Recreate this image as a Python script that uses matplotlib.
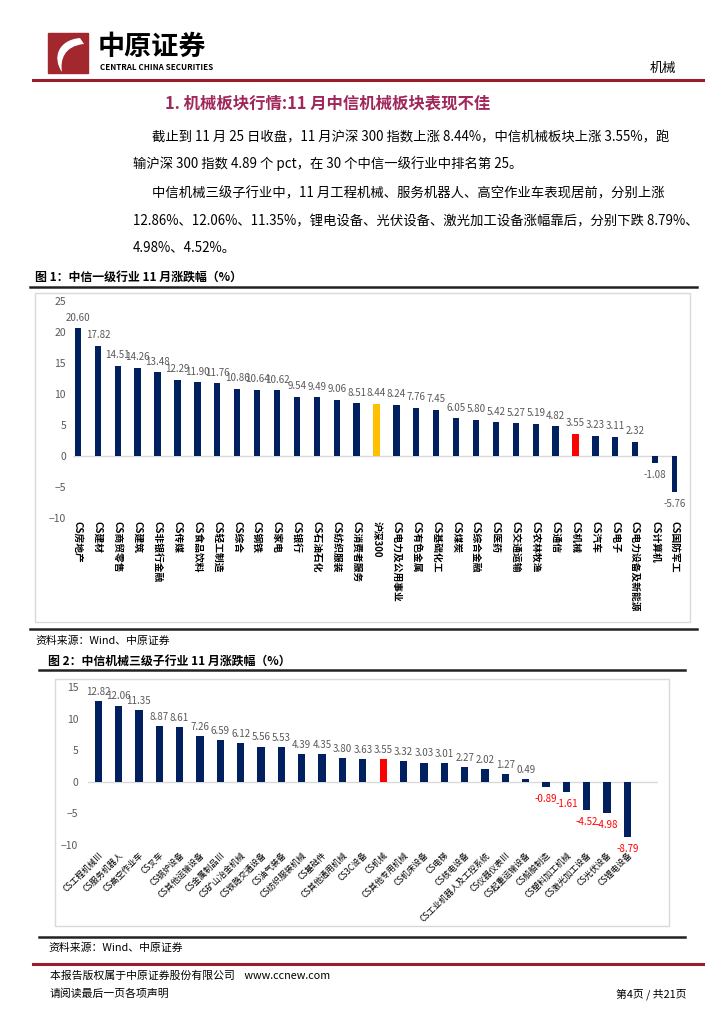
import matplotlib
matplotlib.use("Agg")
import matplotlib.pyplot as plt
from matplotlib.patches import Rectangle, PathPatch
from matplotlib.path import Path

plt.rcParams['font.family'] = ['Noto Sans CJK SC', 'DejaVu Sans']

# 图1：中信一级行业11月涨跌幅
ind_names = ["CS房地产", "CS建材", "CS商贸零售", "CS建筑", "CS非银行金融", "CS传媒",
             "CS食品饮料", "CS轻工制造", "CS综合", "CS钢铁", "CS家电", "CS银行",
             "CS石油石化", "CS纺织服装", "CS消费者服务", "沪深300", "CS电力及公用事业",
             "CS有色金属", "CS基础化工", "CS煤炭", "CS综合金融", "CS医药", "CS交通运输",
             "CS农林牧渔", "CS通信", "CS机械", "CS汽车", "CS电子", "CS电力设备及新能源",
             "CS计算机", "CS国防军工"]
ind_chg = [20.60, 17.82, 14.51, 14.26, 13.48, 12.29, 11.90, 11.76, 10.86, 10.64, 10.62,
           9.54, 9.49, 9.06, 8.51, 8.44, 8.24, 7.76, 7.45, 6.05, 5.80, 5.42, 5.27, 5.19,
           4.82, 3.55, 3.23, 3.11, 2.32, -1.08, -5.76]

# 图2：中信机械三级子行业11月涨跌幅
sub_names = ["CS工程机械Ⅲ", "CS服务机器人", "CS高空作业车", "CS叉车", "CS锅炉设备",
             "CS其他运输设备", "CS金属制品Ⅲ", "CS矿山冶金机械", "CS铁路交通设备",
             "CS油气装备", "CS纺织服装机械", "CS基础件", "CS其他通用机械", "CS3C设备",
             "CS机械", "CS其他专用机械", "CS机床设备", "CS电梯", "CS核电设备",
             "CS工业机器人及工控系统", "CS仪器仪表Ⅲ", "CS起重运输设备", "CS船舶制造",
             "CS塑料加工机械", "CS激光加工设备", "CS光伏设备", "CS锂电设备"]
sub_chg = [12.82, 12.06, 11.35, 8.87, 8.61, 7.26, 6.59, 6.12, 5.56, 5.53, 4.39, 4.35,
           3.80, 3.63, 3.55, 3.32, 3.03, 3.01, 2.27, 2.02, 1.27, 0.49, -0.89, -1.61,
           -4.52, -4.98, -8.79]

NAVY = "#002060"
GRAY = "#595959"
W, H = 724, 1024

fig = plt.figure(figsize=(W / 100, H / 100), dpi=100)

# 整页底图，用像素坐标画文字和线
bg = fig.add_axes([0, 0, 1, 1], zorder=0)
bg.set_xlim(0, W)
bg.set_ylim(H, 0)
bg.axis("off")


def ax_at(x0, y0, x1, y1):
    a = fig.add_axes([x0 / W, 1 - y1 / H, (x1 - x0) / W, (y1 - y0) / H], zorder=2)
    a.patch.set_alpha(0)
    return a


# 页眉
bg.add_patch(Rectangle((48, 33), 40, 40, color="#a3282e"))
swoosh = Path([(80, 38), (58, 40), (52, 58), (62, 72), (60, 60), (64, 46), (84, 44)],
              [Path.MOVETO, Path.CURVE4, Path.CURVE4, Path.CURVE4,
               Path.CURVE4, Path.CURVE4, Path.CURVE4])
bg.add_patch(PathPatch(swoosh, facecolor="white", edgecolor="none"))
bg.text(98, 47, "中原证券", fontsize=19.5, weight="bold", va="center", ha="left")
bg.text(100, 67, "CENTRAL CHINA SECURITIES", fontsize=5.8, weight="bold", va="center")
bg.text(676, 68, "机械", fontsize=9.5, ha="right", va="center")
bg.plot([33, 703], [80, 80], color="#9b1c2b", lw=2.2)

# 正文
bg.text(165, 103, "1. 机械板块行情:11 月中信机械板块表现不佳", fontsize=11.8, weight="bold",
        color="#a0275a", va="center")
lines = [
    (152, 137, "截止到 11 月 25 日收盘，11 月沪深 300 指数上涨 8.44%，中信机械板块上涨 3.55%，跑"),
    (133, 164, "输沪深 300 指数 4.89 个 pct，在 30 个中信一级行业中排名第 25。"),
    (152, 193, "中信机械三级子行业中，11 月工程机械、服务机器人、高空作业车表现居前，分别上涨"),
    (133, 221, "12.86%、12.06%、11.35%，锂电设备、光伏设备、激光加工设备涨幅靠后，分别下跌 8.79%、"),
    (133, 248, "4.98%、4.52%。"),
]
for x, y, s in lines:
    bg.text(x, y, s, fontsize=9.6, va="center")

# 图1
bg.text(35, 277, "图 1：中信一级行业 11 月涨跌幅（%）", fontsize=8.6, weight="bold", va="center")
bg.plot([30, 697], [287, 287], color="#222222", lw=1.8)
bg.add_patch(Rectangle((35, 293), 655, 329, fill=False, edgecolor="#d9d9d9", lw=1))
bg.plot([30, 697], [629, 629], color="#222222", lw=1.8)
bg.text(35, 641, "资料来源：Wind、中原证券", fontsize=7.8, va="center")

ax1 = ax_at(73, 301, 677, 518)
x1 = list(range(len(ind_names)))
c1 = []
for n in ind_names:
    if n == "沪深300":
        c1.append("#ffc000")
    elif n == "CS机械":
        c1.append("#ff0000")
    else:
        c1.append(NAVY)
ax1.bar(x1, ind_chg, width=0.32, color=c1)
ax1.axhline(0, color="#d9d9d9", lw=1, zorder=0)
for i, v in zip(x1, ind_chg):
    ax1.annotate(f"{v:.2f}", (i, v), xytext=(0, 4 if v >= 0 else -5),
                 textcoords="offset points", ha="center",
                 va="bottom" if v >= 0 else "top", fontsize=7, color=GRAY)
ax1.set_xlim(-0.25, 30.1)
ax1.set_ylim(-10, 25)
ax1.set_yticks([-10, -5, 0, 5, 10, 15, 20, 25])
ax1.set_xticks(x1)
ax1.set_xticklabels(ind_names, rotation=-90, fontsize=7, weight="bold", va="top")
ax1.tick_params(length=0)
ax1.tick_params(axis="y", colors=GRAY, labelsize=7.5, pad=5)
ax1.tick_params(axis="x", pad=2)
for s in ax1.spines.values():
    s.set_visible(False)

# 图2
bg.text(48, 661, "图 2：中信机械三级子行业 11 月涨跌幅（%）", fontsize=8.6, weight="bold", va="center")
bg.plot([39, 685], [670, 670], color="#222222", lw=1.8)
bg.add_patch(Rectangle((55, 679), 614, 247, fill=False, edgecolor="#d9d9d9", lw=1))
bg.plot([39, 685], [937, 937], color="#222222", lw=1.8)
bg.text(48, 948, "资料来源：Wind、中原证券", fontsize=7.8, va="center")

ax2 = ax_at(88, 687, 658, 845)
x2 = list(range(len(sub_names)))
c2 = ["#ff0000" if n == "CS机械" else NAVY for n in sub_names]
ax2.bar(x2, sub_chg, width=0.36, color=c2)
ax2.axhline(0, color="#d9d9d9", lw=1, zorder=0)
for i, v in zip(x2, sub_chg):
    ax2.annotate(f"{v:.2f}", (i, v), xytext=(0, 3 if v >= 0 else -5),
                 textcoords="offset points", ha="center",
                 va="bottom" if v >= 0 else "top", fontsize=7,
                 color=GRAY if v >= 0 else "#ff0000")
ax2.set_xlim(-0.5, 27.5)
ax2.set_ylim(-10, 15)
ax2.set_yticks([-10, -5, 0, 5, 10, 15])
ax2.set_xticks(x2)
ax2.set_xticklabels(sub_names, rotation=45, ha="right", va="top",
                    rotation_mode="anchor", fontsize=6)
ax2.tick_params(length=0)
ax2.tick_params(axis="y", colors=GRAY, labelsize=7.5, pad=7)
ax2.tick_params(axis="x", pad=4)
for s in ax2.spines.values():
    s.set_visible(False)

# 页脚
bg.plot([33, 703], [964, 964], color="#9b1c2b", lw=2.2)
bg.text(50, 976, "本报告版权属于中原证券股份有限公司    www.ccnew.com", fontsize=7.8, va="center")
bg.text(50, 994, "请阅读最后一页各项声明", fontsize=7.8, va="center")
bg.text(686, 994, "第4页 / 共21页", fontsize=7.8, va="center", ha="right")

fig.savefig("out.png", dpi=100)
